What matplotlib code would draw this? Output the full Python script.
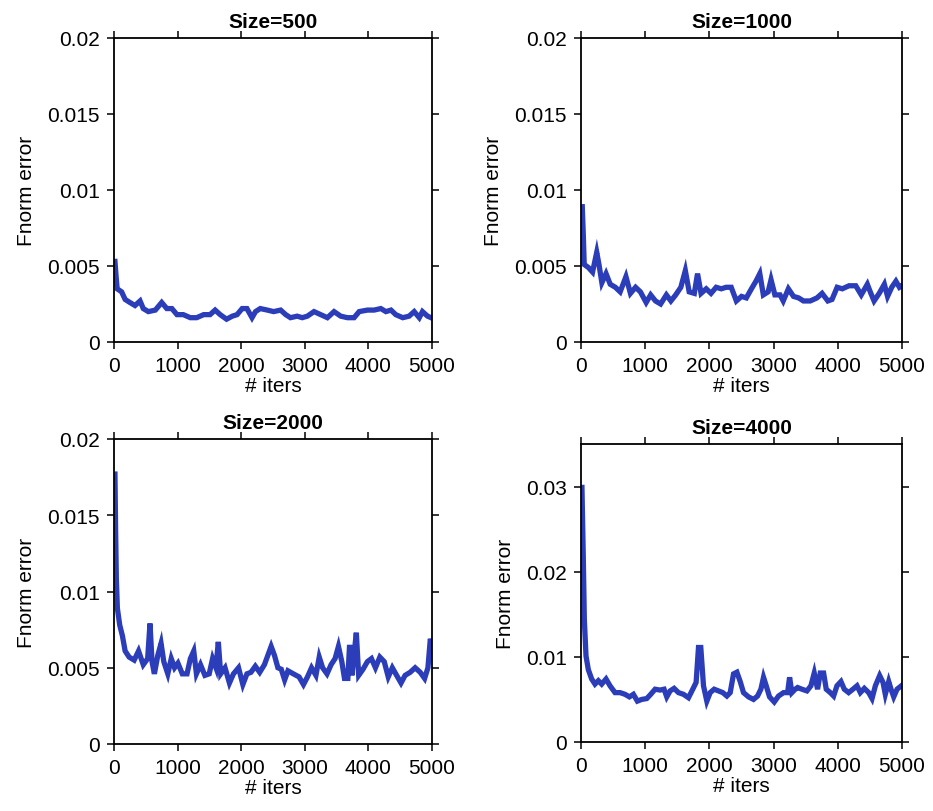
import matplotlib
matplotlib.use("Agg")
import matplotlib.pyplot as plt

# ── Data ───────────────────────────────────────────────────────────────────
iters_500 = [15, 35, 50, 120, 175, 250, 330, 410, 460, 540, 650, 750, 830, 910, 990,
             1090, 1200, 1300, 1410, 1510, 1590, 1670, 1770, 1860, 1935, 2015, 2090,
             2170, 2225, 2300, 2410, 2510, 2620, 2700, 2775, 2880, 2960, 3040, 3145,
             3250, 3355, 3460, 3565, 3670, 3775, 3855, 3985, 4090, 4195, 4275, 4355,
             4430, 4540, 4640, 4720, 4800, 4850, 4930, 4985]
err_500 = [0.0053, 0.0042, 0.0035, 0.0033, 0.0028, 0.0026, 0.0024, 0.0027, 0.0022,
           0.0020, 0.0021, 0.0026, 0.0022, 0.0022, 0.0018, 0.0018, 0.0016, 0.0016,
           0.0018, 0.0018, 0.0021, 0.0018, 0.0015, 0.0017, 0.0018, 0.0022, 0.0022,
           0.0016, 0.0020, 0.0022, 0.0021, 0.0020, 0.0021, 0.0018, 0.0016, 0.0017,
           0.0016, 0.0017, 0.0020, 0.0018, 0.0016, 0.0020, 0.0017, 0.0016, 0.0016,
           0.0020, 0.0021, 0.0021, 0.0022, 0.0020, 0.0021, 0.0018, 0.0016, 0.0017,
           0.0020, 0.0016, 0.0020, 0.0017, 0.0016]

iters_1000 = [20, 37, 50, 115, 180, 245, 280, 325, 390, 455, 535, 610, 700, 770, 850,
              925, 1015, 1085, 1160, 1240, 1330, 1400, 1475, 1555, 1625, 1685, 1765,
              1815, 1870, 1950, 2025, 2105, 2185, 2260, 2340, 2420, 2500, 2575, 2655,
              2725, 2785, 2840, 2915, 2960, 3020, 3100, 3150, 3230, 3310, 3390, 3465,
              3570, 3675, 3755, 3845, 3910, 3990, 4070, 4175, 4280, 4365, 4460, 4515,
              4565, 4645, 4725, 4775, 4840, 4905, 4960, 4995]
err_1000 = [0.0089, 0.0069, 0.0051, 0.0049, 0.0046, 0.0059, 0.0051, 0.0039, 0.0045,
            0.0038, 0.0036, 0.0033, 0.0043, 0.0032, 0.0036, 0.0033, 0.0026, 0.0031,
            0.0027, 0.0025, 0.0031, 0.0027, 0.0031, 0.0036, 0.0047, 0.0033, 0.0032,
            0.0045, 0.0032, 0.0035, 0.0032, 0.0036, 0.0035, 0.0036, 0.0036, 0.0027,
            0.0030, 0.0029, 0.0035, 0.0040, 0.0045, 0.0031, 0.0033, 0.0041, 0.0031,
            0.0031, 0.0027, 0.0035, 0.0030, 0.0029, 0.0027, 0.0027, 0.0029, 0.0032,
            0.0027, 0.0028, 0.0036, 0.0035, 0.0037, 0.0037, 0.0031, 0.0038, 0.0032,
            0.0027, 0.0032, 0.0038, 0.0030, 0.0036, 0.0040, 0.0036, 0.0037]

iters_2000 = [15, 25, 37, 53, 90, 132, 175, 238, 317, 386, 460, 529, 566, 598, 635,
              688, 740, 783, 846, 900, 952, 1005, 1074, 1148, 1201, 1254, 1296, 1360,
              1429, 1497, 1550, 1603, 1640, 1677, 1746, 1815, 1878, 1958, 2026, 2090,
              2153, 2222, 2291, 2365, 2418, 2471, 2524, 2577, 2630, 2683, 2735, 2820,
              2910, 2979, 3042, 3106, 3175, 3227, 3280, 3349, 3413, 3476, 3529, 3582,
              3624, 3677, 3704, 3741, 3783, 3810, 3847, 3915, 3984, 4048, 4111, 4180,
              4249, 4312, 4376, 4444, 4513, 4577, 4656, 4735, 4815, 4884, 4936, 4974,
              5000]
err_2000 = [0.0177, 0.0141, 0.0108, 0.0089, 0.0078, 0.0071, 0.0061, 0.0057, 0.0055,
            0.0061, 0.0052, 0.0056, 0.0079, 0.0054, 0.0046, 0.0058, 0.0066, 0.0054,
            0.0046, 0.0056, 0.0050, 0.0053, 0.0046, 0.0046, 0.0056, 0.0061, 0.0046,
            0.0052, 0.0045, 0.0046, 0.0056, 0.0050, 0.0067, 0.0046, 0.0050, 0.0040,
            0.0046, 0.0050, 0.0039, 0.0046, 0.0047, 0.0051, 0.0047, 0.0052, 0.0058,
            0.0064, 0.0058, 0.0050, 0.0049, 0.0042, 0.0048, 0.0046, 0.0044, 0.0039,
            0.0044, 0.0050, 0.0045, 0.0057, 0.0050, 0.0046, 0.0052, 0.0056, 0.0064,
            0.0054, 0.0043, 0.0043, 0.0065, 0.0045, 0.0062, 0.0073, 0.0045, 0.0049,
            0.0054, 0.0056, 0.0050, 0.0057, 0.0054, 0.0044, 0.0050, 0.0045, 0.0040,
            0.0045, 0.0047, 0.0050, 0.0047, 0.0043, 0.0050, 0.0069, 0.0065]

iters_4000 = [15, 36, 52, 78, 114, 166, 218, 270, 322, 390, 452, 530, 608, 686, 754,
              816, 878, 946, 1024, 1086, 1154, 1232, 1294, 1336, 1388, 1450, 1518, 1596,
              1674, 1741, 1793, 1830, 1866, 1908, 1960, 2012, 2074, 2142, 2209, 2272,
              2324, 2376, 2428, 2480, 2531, 2609, 2687, 2750, 2802, 2843, 2885, 2937,
              3010, 3077, 3155, 3218, 3249, 3285, 3337, 3374, 3441, 3519, 3581, 3633,
              3685, 3727, 3779, 3820, 3883, 3935, 3987, 4049, 4101, 4169, 4236, 4299,
              4351, 4413, 4481, 4533, 4585, 4652, 4704, 4740, 4793, 4829, 4871, 4923,
              4990]
err_4000 = [0.0299, 0.0215, 0.0144, 0.0101, 0.0085, 0.0074, 0.0068, 0.0072, 0.0068,
            0.0074, 0.0066, 0.0058, 0.0058, 0.0056, 0.0053, 0.0056, 0.0048, 0.0050,
            0.0051, 0.0056, 0.0062, 0.0061, 0.0062, 0.0053, 0.0060, 0.0063, 0.0058,
            0.0056, 0.0052, 0.0062, 0.0070, 0.0111, 0.0111, 0.0066, 0.0048, 0.0058,
            0.0062, 0.0060, 0.0058, 0.0054, 0.0058, 0.0080, 0.0082, 0.0071, 0.0058,
            0.0053, 0.0050, 0.0054, 0.0062, 0.0076, 0.0066, 0.0053, 0.0047, 0.0054,
            0.0058, 0.0058, 0.0076, 0.0058, 0.0062, 0.0064, 0.0062, 0.0060, 0.0066,
            0.0081, 0.0062, 0.0081, 0.0081, 0.0062, 0.0058, 0.0054, 0.0066, 0.0071,
            0.0062, 0.0058, 0.0062, 0.0066, 0.0058, 0.0063, 0.0058, 0.0051, 0.0066,
            0.0078, 0.0070, 0.0056, 0.0071, 0.0062, 0.0053, 0.0062, 0.0066]

titles = ["Size=500", "Size=1000", "Size=2000", "Size=4000"]
ymaxes = [0.02, 0.02, 0.02, 0.035]
yticks = [[0, 0.005, 0.01, 0.015, 0.02],
          [0, 0.005, 0.01, 0.015, 0.02],
          [0, 0.005, 0.01, 0.015, 0.02],
          [0, 0.01, 0.02, 0.03]]
yticklabels = [["0", "0.005", "0.01", "0.015", "0.02"],
               ["0", "0.005", "0.01", "0.015", "0.02"],
               ["0", "0.005", "0.01", "0.015", "0.02"],
               ["0", "0.01", "0.02", "0.03"]]
xticks = [0, 1000, 2000, 3000, 4000, 5000]
series = [(iters_500, err_500), (iters_1000, err_1000),
          (iters_2000, err_2000), (iters_4000, err_4000)]

# ── Plot ───────────────────────────────────────────────────────────────────
plt.rcParams.update({
    "font.family": ["Liberation Sans", "DejaVu Sans"],
    "font.size": 15,
})

W, H = 933, 812
fig = plt.figure(figsize=(W / 100, H / 100), dpi=100)

# axes boxes in pixels: left, right, top, bottom
boxes = [(114, 432, 39, 343), (581, 902, 39, 343),
         (114, 432, 440, 745), (581, 902, 445, 743)]

line_color = "#2B3DB8"

for i, (box, (x, y)) in enumerate(zip(boxes, series)):
    l, r, t, b = box
    ax = fig.add_axes([l / W, (H - b) / H, (r - l) / W, (b - t) / H])
    ax.plot(x, y, color=line_color, linewidth=3.8, solid_joinstyle="miter")
    ax.set_xlim(0, 5000)
    ax.set_ylim(0, ymaxes[i])
    ax.set_xticks(xticks)
    ax.set_xticklabels([str(v) for v in xticks])
    ax.set_yticks(yticks[i])
    ax.set_yticklabels(yticklabels[i])
    ax.tick_params(direction="out", length=5, width=1.1, pad=5,
                   top=True, right=True, labeltop=False, labelright=False)
    for sp in ax.spines.values():
        sp.set_linewidth(1.3)
    ax.set_title(titles[i], fontweight="bold", fontsize=15, pad=8)
    ax.set_xlabel("# iters", labelpad=1)
    ax.set_ylabel("Fnorm error", labelpad=8)

plt.savefig("out.png", dpi=100)
